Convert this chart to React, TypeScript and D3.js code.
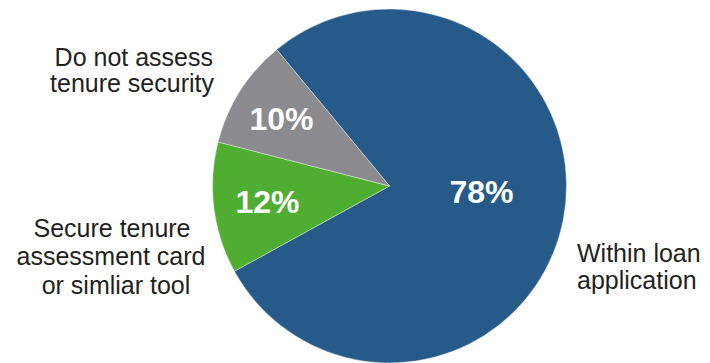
import React from "react";
import * as d3 from "d3";

const categories = ["Within loan application", "Secure tenure assessment card or simliar tool", "Do not assess tenure security"];
const values = [78, 12, 10];
const valueLabels = ["78%", "12%", "10%"];
const colors = ["#265a89", "#4fad32", "#8b8a8e"];

const W = 710;
const H = 363;
const cx = 389.5;
const cy = 186;
const R = 177;
const START_DEG = -39.6;

export default function App() {
  const pie = d3
    .pie<number>()
    .sort(null)
    .startAngle((START_DEG * Math.PI) / 180)
    .endAngle(((360 + START_DEG) * Math.PI) / 180);
  const arcs = pie(values);
  const arc = d3.arc<d3.PieArcDatum<number>>().innerRadius(0).outerRadius(R);

  // percentage label positions (relative to centre)
  const pctPos = [
    { x: 92, y: 17 },
    { x: -122, y: 27 },
    { x: -108, y: -56 },
  ];

  const textColor = "#231f20";
  const fontFamily = "'Liberation Sans', Arial, Helvetica, sans-serif";

  return (
    <svg
      width={W}
      height={H}
      style={{ position: "absolute", left: 0, top: 0, background: "#fff" }}
      fontFamily={fontFamily}
    >
      <g transform={`translate(${cx},${cy})`}>
        {arcs.map((a, i) => (
          <path key={i} d={arc(a) || ""} fill={colors[i]} stroke="#ffffff" strokeWidth={0.4} />
        ))}
        {arcs.map((a, i) => (
          <text
            key={"p" + i}
            x={pctPos[i].x}
            y={pctPos[i].y}
            textAnchor="middle"
            fill="#ffffff"
            fontWeight="bold"
            fontSize={32}
          >
            {valueLabels[i]}
          </text>
        ))}
      </g>
      {/* category labels */}
      <text fill={textColor} fontSize={25} textAnchor="start">
        <tspan x={577} y={261.5}>Within loan</tspan>
        <tspan x={577} y={288.5}>application</tspan>
      </text>
      <text fill={textColor} fontSize={25} textAnchor="middle">
        <tspan x={112} y={236.5}>Secure tenure</tspan>
        <tspan x={111} y={265}>assessment card</tspan>
        <tspan x={116} y={293.5}>or simliar tool</tspan>
      </text>
      <text fill={textColor} fontSize={25} textAnchor="end">
        <tspan x={213} y={66}>Do not assess</tspan>
        <tspan x={214} y={92.3}>tenure security</tspan>
      </text>
    </svg>
  );
}
